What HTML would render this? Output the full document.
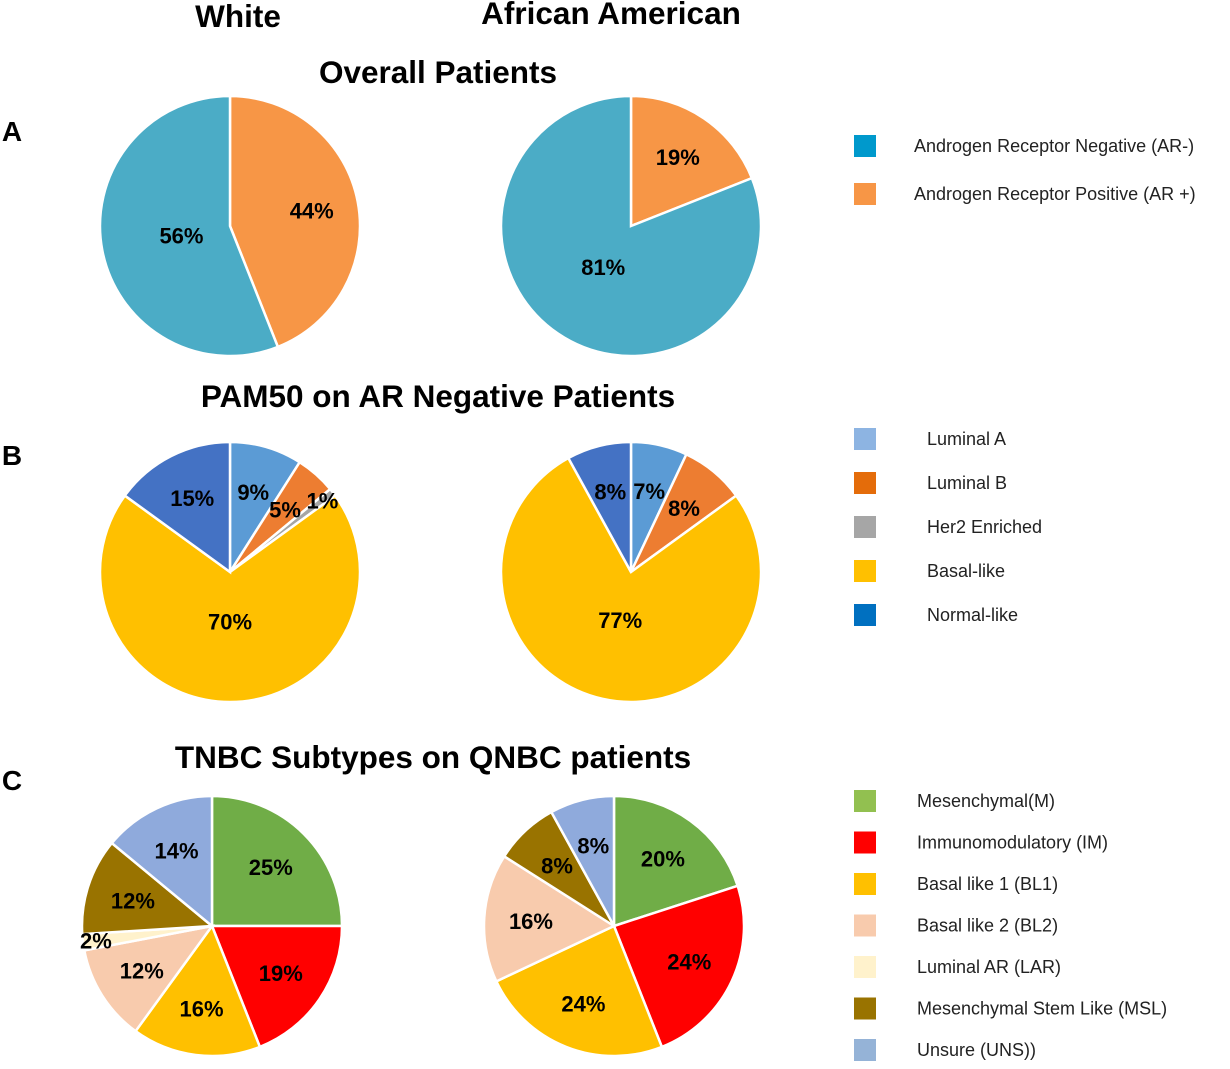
<!DOCTYPE html>
<html><head><meta charset="utf-8">
<style>
body{margin:0;background:#fff;width:1230px;height:1064px;overflow:hidden;font-family:"Liberation Sans",sans-serif}
svg text{font-family:"Liberation Sans",sans-serif}
</style></head>
<body>
<svg id="chart" width="1230" height="1064" xmlns="http://www.w3.org/2000/svg">
<g font-weight="bold" fill="#000" text-anchor="middle" font-size="31.5">
<text x="238" y="27">White</text>
<text x="611" y="24">African American</text>
<text x="438" y="83">Overall Patients</text>
<text x="438" y="407">PAM50 on AR Negative Patients</text>
<text x="433" y="768">TNBC Subtypes on QNBC patients</text>
<text x="12" y="141" font-size="28">A</text>
<text x="12" y="465" font-size="28">B</text>
<text x="12" y="790" font-size="28">C</text>
</g>
<g id="pies"></g>
<g id="legends"></g>
</svg>
<script>
const aWhite=[44,56];
const aAA=[19,81];
const aColors=["#F79646","#4BACC6"];
const bWhite=[9,5,1,70,15];
const bAA=[7,8,0,77,8];
const bColors=["#5B9BD5","#ED7D31","#A5A5A5","#FFC000","#4472C4"];
const cWhite=[25,19,16,12,2,12,14];
const cAA=[20,24,24,16,0,8,8];
const cColors=["#70AD47","#FF0000","#FFC000","#F8CBAD","#FFF2CC","#997300","#8FAADC"];
const legA=["Androgen Receptor Negative  (AR-)","Androgen Receptor Positive  (AR +)"];
const legAColors=["#0099CC","#F79646"];
const legB=["Luminal A","Luminal B","Her2 Enriched","Basal-like","Normal-like"];
const legBColors=["#8DB4E2","#E46C0A","#A6A6A6","#FFC000","#0070C0"];
const legC=["Mesenchymal(M)","Immunomodulatory  (IM)","Basal like 1 (BL1)","Basal like 2 (BL2)","Luminal AR (LAR)","Mesenchymal Stem Like (MSL)","Unsure (UNS))"];
const legCColors=["#92C050","#FF0000","#FFC000","#F8CBAD","#FFF2CC","#997300","#95B3D7"];

const NS="http://www.w3.org/2000/svg";
const pies=document.getElementById('pies');
function pt(cx,cy,r,a){return [cx+r*Math.sin(a),cy-r*Math.cos(a)];}
function drawPie(vals,colors,cx,cy,r,name){
  const tot=vals.reduce((s,v)=>s+v,0);
  let a0=0;
  vals.forEach((v,i)=>{
    if(v<=0)return;
    const a1=a0+v/tot*2*Math.PI;
    const p0=pt(cx,cy,r,a0),p1=pt(cx,cy,r,a1);
    const large=(a1-a0)>Math.PI?1:0;
    const p=document.createElementNS(NS,'path');
    p.setAttribute('d',`M${cx},${cy}L${p0[0]},${p0[1]}A${r},${r} 0 ${large} 1 ${p1[0]},${p1[1]}Z`);
    p.setAttribute('fill',colors[i]);
    p.setAttribute('stroke','#fff');
    p.setAttribute('stroke-width','2.5');
    
    
    pies.appendChild(p);
    a0=a1;
  });
  a0=0;
  vals.forEach((v,i)=>{
    if(v<=0)return;
    const a1=a0+v/tot*2*Math.PI;
    const m=(a0+a1)/2;
    const f=v<4?0.9:(v>50?0.38:0.64);
    const q=pt(cx,cy,r*f,m);
    const t=document.createElementNS(NS,'text');
    t.setAttribute('x',q[0]);t.setAttribute('y',q[1]+8);
    t.setAttribute('text-anchor','middle');
    t.setAttribute('font-size','22');t.setAttribute('font-weight','bold');
    t.textContent=v+'%';
    
    
    pies.appendChild(t);
    a0=a1;
  });
}
drawPie(aWhite,aColors,230,226,130,'a-white');
drawPie(aAA,aColors,631,226,130,'a-aa');
drawPie(bWhite,bColors,230,572,130,'b-white');
drawPie(bAA,bColors,631,572,130,'b-aa');
drawPie(cWhite,cColors,212,926,130,'c-white');
drawPie(cAA,cColors,614,926,130,'c-aa');

const lg=document.getElementById('legends');
function legend(labels,colors,tx,y0,dy,name){
  labels.forEach((l,i)=>{
    const y=y0+i*dy;
    const r=document.createElementNS(NS,'rect');
    r.setAttribute('x',854);r.setAttribute('y',y-11);r.setAttribute('width',22);r.setAttribute('height',22);
    r.setAttribute('fill',colors[i]);
    
    
    lg.appendChild(r);
    const t=document.createElementNS(NS,'text');
    t.setAttribute('x',tx);t.setAttribute('y',y+6);
    t.setAttribute('font-size','18');t.setAttribute('fill','#222');
    t.setAttribute('xml:space','preserve');
    t.textContent=l;
    
    
    lg.appendChild(t);
  });
}
legend(legA,legAColors,914,146,48,'legend-a');
legend(legB,legBColors,927,439,44,'legend-b');
legend(legC,legCColors,917,801,41.5,'legend-c');
</script>
</body></html>
